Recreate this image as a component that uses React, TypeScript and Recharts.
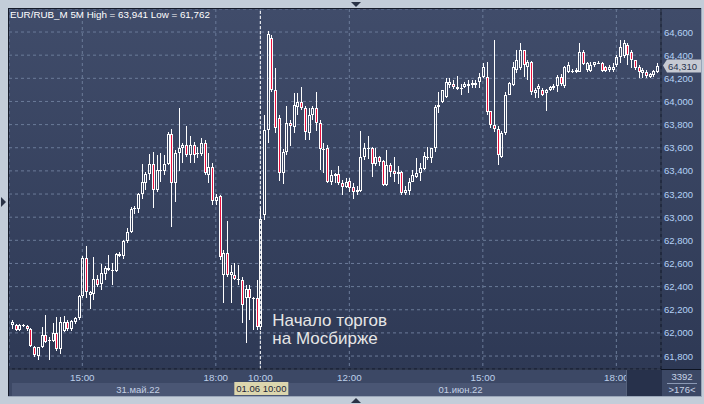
import React from "react";
import {
  ComposedChart,
  Bar,
  XAxis,
  YAxis,
  CartesianGrid,
  ReferenceLine,
} from "recharts";

// 5-minute candles EUR/RUB_M, each row is [open, high, low, close]
const may31Candles: number[][] = [
  [62070, 62110, 62030, 62090], [62065, 62075, 62020, 62025], [62025, 62075, 62015, 62065],
  [62060, 62075, 62050, 62065], [62060, 62070, 62020, 62035], [62030, 62045, 61880, 61885],
  [61880, 61885, 61795, 61805], [61800, 61880, 61762, 61875], [61880, 62050, 61870, 61980],
  [61980, 62155, 61915, 61925], [61930, 61965, 61770, 61935], [61930, 62085, 61920, 62000],
  [62000, 62140, 61840, 61865], [61865, 62140, 61815, 62090], [62015, 62150, 62005, 62095],
  [62095, 62110, 62020, 62030], [62030, 62115, 62020, 62100], [62095, 62140, 62080, 62125],
  [62125, 62330, 62115, 62315], [62315, 62665, 62305, 62650], [62650, 62750, 62305, 62350],
  [62330, 62360, 62205, 62355], [62340, 62655, 62285, 62470], [62470, 62500, 62400, 62415],
  [62425, 62595, 62375, 62515], [62510, 62580, 62455, 62565], [62565, 62675, 62535, 62545],
  [62545, 62600, 62415, 62540], [62535, 62690, 62530, 62680], [62680, 62700, 62660, 62665],
  [62665, 62805, 62635, 62795], [62790, 62905, 62780, 62870], [62870, 63085, 62860, 63070],
  [63070, 63095, 63030, 63075], [63070, 63210, 63035, 63200], [63200, 63460, 63155, 63305],
  [63295, 63390, 63235, 63370], [63370, 63545, 63320, 63460], [63460, 63565, 63080, 63235],
  [63235, 63540, 63220, 63410], [63400, 63555, 63305, 63405], [63400, 63540, 63365, 63460],
  [63460, 63735, 63450, 63720], [63720, 63760, 62915, 63295], [63295, 63580, 63130, 63555],
  [63555, 63941, 63400, 63600], [63595, 63640, 63465, 63620], [63620, 63790, 63520, 63535],
  [63535, 63700, 63470, 63620], [63620, 63650, 63465, 63535], [63555, 63605, 63510, 63550],
  [63550, 63685, 63530, 63640], [63640, 63665, 63365, 63380], [63365, 63555, 63295, 63435],
  [63435, 63470, 63105, 63140], [63140, 63200, 63105, 63175], [63180, 63190, 62630, 62655],
  [62500, 62715, 62260, 62690], [62690, 62965, 62480, 62500], [62500, 62585, 62260, 62525],
  [62500, 62605, 62455, 62465], [62465, 62590, 62415, 62470], [62460, 62485, 62085, 62240],
  [62300, 62415, 61910, 62380], [62380, 62415, 62110, 62300], [62300, 62310, 62025, 62305],
  [62300, 62455, 62025, 62050],
];

const jun1Candles: number[][] = [
  [62050, 63080, 62025, 62985], [63020, 63885, 62975, 63755], [63755, 64610, 63640, 64585],
  [64550, 64575, 64080, 64100], [64100, 64290, 63725, 63770], [63855, 63885, 63310, 63380],
  [63380, 63590, 63285, 63565], [63565, 63960, 63540, 63815], [63815, 63840, 63615, 63790],
  [63780, 64075, 63725, 63970], [63950, 64075, 63885, 63995], [63995, 64125, 63925, 63945],
  [63945, 63960, 63665, 63735], [63730, 63945, 63665, 63885], [63885, 63960, 63840, 63945],
  [63945, 64080, 63745, 63815], [63815, 63840, 63405, 63590], [63585, 63640, 63380, 63590],
  [63595, 63625, 63295, 63305], [63305, 63405, 63280, 63365], [63355, 63385, 63295, 63375],
  [63375, 63440, 63280, 63295], [63295, 63320, 63190, 63260], [63260, 63340, 63250, 63305],
  [63310, 63340, 63215, 63250], [63260, 63295, 63155, 63215], [63215, 63270, 63190, 63235],
  [63225, 63745, 63215, 63520], [63520, 63640, 63495, 63600], [63590, 63700, 63505, 63600],
  [63600, 63605, 63345, 63460], [63460, 63600, 63440, 63520], [63520, 63525, 63440, 63475],
  [63485, 63490, 63270, 63280], [63280, 63580, 63270, 63450], [63450, 63470, 63345, 63390],
  [63400, 63520, 63305, 63375], [63375, 63440, 63285, 63390], [63390, 63395, 63190, 63210],
  [63210, 63270, 63190, 63235], [63225, 63340, 63195, 63305], [63305, 63410, 63300, 63365],
  [63345, 63510, 63340, 63380], [63380, 63470, 63310, 63425], [63415, 63560, 63405, 63530],
  [63510, 63605, 63495, 63520], [63510, 63600, 63470, 63595], [63595, 63970, 63560, 63950],
  [63950, 64080, 63900, 63970], [63995, 64100, 63985, 64100], [64040, 64205, 64030, 64170],
  [64140, 64200, 64120, 64165], [64150, 64185, 64110, 64125], [64110, 64220, 64100, 64125],
  [64110, 64150, 64060, 64115], [64125, 64170, 64115, 64155], [64135, 64185, 64075, 64155],
  [64160, 64185, 64120, 64140], [64160, 64185, 64120, 64140], [64170, 64245, 64120, 64210],
  [64210, 64330, 64200, 64300], [64210, 64345, 63885, 63910], [63915, 63920, 63770, 63795],
  [63800, 64530, 63740, 63760], [63760, 63790, 63450, 63535], [63520, 63745, 63510, 63725],
  [63725, 64080, 63710, 64055], [64055, 64165, 64055, 64160], [64140, 64340, 64130, 64300],
  [64270, 64445, 64250, 64360], [64290, 64505, 64270, 64445], [64445, 64445, 64210, 64315],
  [64300, 64360, 64185, 64340], [64340, 64350, 64060, 64080], [64075, 64115, 64030, 64100],
  [64110, 64150, 64030, 64135], [64100, 64120, 64045, 64055], [64075, 64110, 63920, 64100],
  [64100, 64130, 64090, 64125], [64120, 64150, 64100, 64135], [64135, 64230, 64085, 64210],
  [64210, 64240, 64130, 64150], [64130, 64310, 64120, 64300], [64255, 64340, 64245, 64315],
  [64265, 64280, 64250, 64260], [64255, 64285, 64245, 64270], [64255, 64505, 64255, 64430],
  [64430, 64445, 64315, 64325], [64275, 64340, 64255, 64330], [64265, 64340, 64255, 64315],
  [64315, 64345, 64300, 64340], [64335, 64350, 64320, 64330], [64335, 64345, 64255, 64265],
  [64300, 64310, 64255, 64265], [64270, 64315, 64255, 64300], [64270, 64330, 64255, 64300],
  [64315, 64400, 64300, 64385], [64385, 64530, 64330, 64470], [64395, 64530, 64375, 64505],
  [64490, 64505, 64315, 64400], [64430, 64445, 64285, 64360], [64360, 64360, 64270, 64290],
  [64300, 64315, 64205, 64255], [64250, 64290, 64200, 64270], [64255, 64275, 64200, 64220],
  [64210, 64245, 64200, 64235], [64230, 64275, 64210, 64265], [64255, 64335, 64245, 64310],
];

const timeTicks = [19, 55, 67, 91, 127, 163];
const timeLabels = ["15:00", "18:00", "10:00", "12:00", "15:00", "18:00"];
const dateTicks = [34, 121];
const dateLabels = ["31.май.22", "01.июн.22"];
const priceTicks = [61800, 62000, 62200, 62400, 62600, 62800, 63000, 63200, 63400, 63600, 63800, 64000, 64200, 64400, 64600];
const sessionStart = 67; // 01.06 10:00, start of Moscow Exchange session
const lastPrice = 64310;

const data = [...may31Candles, ...jun1Candles].map(([open, high, low, close], i) => ({
  i,
  open,
  high,
  low,
  close,
}));

const FONT = '"Liberation Sans", Arial, sans-serif';
const RED = "#e8123e";

function Candle(props: any) {
  let { x, y, width, height } = props;
  const { open, high, low, close } = props.payload;
  if (height < 0) {
    y += height;
    height = -height;
  }
  const py = (p: number) => (high === low ? y : y + ((high - p) / (high - low)) * height);
  const cx = Math.round(x + width / 2);
  const yh = Math.round(y);
  const yl = Math.round(y + height);
  const top = Math.round(py(Math.max(open, close)));
  const bot = Math.round(py(Math.min(open, close)));
  const down = close < open;
  return (
    <g>
      {top > yh && <line x1={cx + 0.5} x2={cx + 0.5} y1={yh} y2={top} stroke="#fff" strokeWidth={1} />}
      {yl > bot && <line x1={cx + 0.5} x2={cx + 0.5} y1={bot} y2={yl} stroke="#fff" strokeWidth={1} />}
      {bot - top < 2 ? (
        <line x1={cx - 1} x2={cx + 2} y1={top + 0.5} y2={top + 0.5} stroke="#fff" strokeWidth={1} />
      ) : (
        <rect
          x={cx - 0.5}
          y={top + 0.5}
          width={2}
          height={bot - top - 1}
          fill={down ? RED : "none"}
          stroke="#fff"
          strokeWidth={1}
        />
      )}
    </g>
  );
}

const PriceTick = ({ x, y, payload }: any) => (
  <text x={x} y={y} dy={3.5} fill="#b4d2f6" fontSize={9.5} fontFamily={FONT} textAnchor="start">
    {payload.value.toLocaleString("en-US")}
  </text>
);

const TimeTick = ({ x, y, payload }: any) => (
  <text x={x} y={y} dy={11.5} fill="#bccfea" fontSize={9.8} fontFamily={FONT} textAnchor="middle">
    {timeLabels[timeTicks.indexOf(payload.value)]}
  </text>
);

const DateTick = ({ x, y, payload }: any) => (
  <text x={x} y={y} dy={10.5} fill="#c4d0e4" fontSize={9.5} fontFamily={FONT} textAnchor="middle">
    {dateLabels[dateTicks.indexOf(payload.value)]}
  </text>
);

const SessionLabel = ({ viewBox }: any) => {
  const { x, y, height } = viewBox;
  const bottom = y + height;
  return (
    <g fontFamily={FONT}>
      <text x={x + 12} y={bottom - 43} fill="#e6e6e6" fontSize={17}>
        Начало торгов
      </text>
      <text x={x + 12} y={bottom - 25} fill="#e6e6e6" fontSize={17}>
        на Мосбирже
      </text>
      <rect x={x - 26} y={bottom + 13} width={54} height={13} fill="#dcd6ae" />
      <text x={x + 1} y={bottom + 23} fill="#1e2638" fontSize={9.5} textAnchor="middle">
        01.06 10:00
      </text>
    </g>
  );
};

const PriceTag = ({ viewBox }: any) => {
  const { x, y, width } = viewBox;
  const left = x + width + 2;
  return (
    <g fontFamily={FONT}>
      <path
        d={`M${left} ${y} L${left + 4} ${y - 6} L${left + 38} ${y - 6} L${left + 38} ${y + 7} L${left + 4} ${y + 7} Z`}
        fill="#c6cad3"
      />
      <text x={left + 5} y={y + 4} fill="#28344e" fontSize={9.5}>
        {lastPrice.toLocaleString("en-US")}
      </text>
    </g>
  );
};

const abs = (style: React.CSSProperties): React.CSSProperties => ({ position: "absolute", ...style });

export default function App() {
  return (
    <div style={abs({ left: 0, top: 0, width: 704, height: 404, background: "#c3cdd9", overflow: "hidden", fontFamily: FONT })}>
      {/* panel backgrounds */}
      <div style={abs({ left: 8, top: 8, width: 693, height: 361, background: "linear-gradient(#404c6a, #2e3955)" })} />
      <div style={abs({ left: 8, top: 369, width: 693, height: 28, background: "#3c4865" })} />
      <div style={abs({ left: 12, top: 383, width: 614, height: 13, background: "#4a5674" })} />

      <div style={abs({ left: 0, top: 0 })}>
        <ComposedChart
          width={704}
          height={404}
          data={data}
          margin={{ top: 9, right: 3, bottom: 8, left: 9 }}
        >
          <CartesianGrid stroke="#6b7b99" strokeDasharray="3 3" fill="none" />
          <XAxis
            dataKey="i"
            type="category"
            ticks={timeTicks}
            interval={0}
            height={13}
            tickSize={0}
            tickMargin={0}
            tick={<TimeTick />}
            axisLine={{ stroke: "#0e1422" }}
            padding={{ left: 1, right: 2 }}
          />
          <XAxis
            xAxisId="date"
            dataKey="i"
            type="category"
            ticks={dateTicks}
            interval={0}
            height={14}
            tickSize={0}
            tickMargin={0}
            tick={<DateTick />}
            axisLine={false}
            padding={{ left: 1, right: 2 }}
          />
          <YAxis
            orientation="right"
            domain={[61688, 64799]}
            ticks={priceTicks}
            width={40}
            tickSize={0}
            tickMargin={3}
            tick={<PriceTick />}
            axisLine={{ stroke: "#0e1422" }}
            allowDataOverflow
          />
          <ReferenceLine
            x={sessionStart}
            stroke="#ffffff"
            strokeDasharray="3 2"
            label={<SessionLabel />}
          />
          <Bar
            dataKey={(d: any) => [d.low, d.high]}
            shape={<Candle />}
            isAnimationActive={false}
          />
          <ReferenceLine y={lastPrice} stroke="none" label={<PriceTag />} />
        </ComposedChart>
      </div>

      {/* frame lines and decorations */}
      <div style={abs({ left: 8, top: 8, width: 693, height: 1, background: "#151b2a" })} />
      <div style={abs({ left: 8, top: 8, width: 1, height: 389, background: "#151b2a" })} />
      <div style={abs({ left: 661, top: 369, width: 1, height: 28, background: "#0e1422" })} />
      <div style={abs({ left: 661, top: 369, width: 40, height: 1, background: "#0e1422" })} />
      <div style={abs({ left: 626, top: 370, width: 35, height: 26, background: "#27314b", borderLeft: "1px solid #56627c" })} />
      <div style={abs({ left: 701, top: 8, width: 1, height: 389, background: "#9aa6b8" })} />
      <div style={abs({ left: 8, top: 396, width: 694, height: 1, background: "#9aa6b8" })} />

      <div style={abs({ left: 10, top: 9, color: "#ffffff", fontSize: 9.8, whiteSpace: "nowrap", lineHeight: "12px" })}>
        EUR/RUB_M 5M High = 63,941 Low = 61,762
      </div>
      <div style={abs({ left: 664, top: 371, width: 36, textAlign: "center", color: "#c8d4e8", fontSize: 9.5, lineHeight: "11px" })}>
        3392
      </div>
      <div style={abs({ left: 667, top: 383, width: 30, height: 1, background: "#8a98b4" })} />
      <div style={abs({ left: 664, top: 384, width: 36, textAlign: "center", color: "#c8d4e8", fontSize: 9.5, lineHeight: "11px" })}>
        {">176<"}
      </div>

      {/* scroll arrows */}
      <div style={abs({ left: 351, top: 2, width: 0, height: 0, borderLeft: "5px solid transparent", borderRight: "5px solid transparent", borderTop: "5px solid #2a3346" })} />
      <div style={abs({ left: 351, top: 398, width: 0, height: 0, borderLeft: "5px solid transparent", borderRight: "5px solid transparent", borderBottom: "5px solid #2a3346" })} />
      <div style={abs({ left: 1, top: 197, width: 0, height: 0, borderTop: "5px solid transparent", borderBottom: "5px solid transparent", borderLeft: "5px solid #2a3346" })} />
    </div>
  );
}
